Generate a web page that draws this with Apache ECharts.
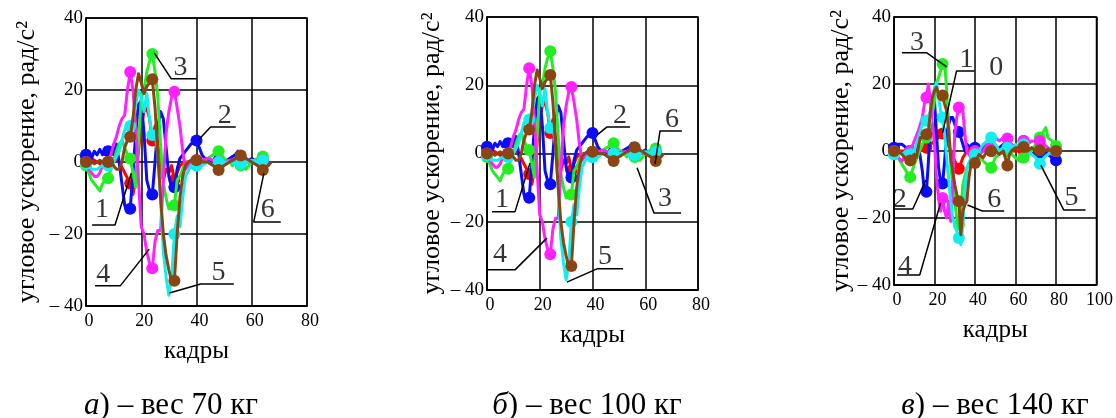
<!DOCTYPE html>
<html>
<head>
<meta charset="utf-8">
<script src="https://cdn.jsdelivr.net/npm/echarts@6/dist/echarts.min.js"></script>
<style>
html, body { margin: 0; padding: 0; background: #fff; }
#chart { width: 1116px; height: 418px; }
</style>
</head>
<body>
<div id="chart"></div>
<script>
// номера кривых и их цвета
var curveNames = ['1', '2', '3', '4', '5', '6'];
var curveColors = ['#ff0000', '#0a0aff', '#22ee22', '#ff22ff', '#11eeee', '#8b4513'];

var xTicksAB = [0, 20, 40, 60, 80];
var xTicksC = [0, 20, 40, 60, 80, 100];
var yTicks = [-40, -20, 0, 20, 40];

var captions = ['а', 'б', 'в'];
var weights = ['вес 70 кг', 'вес 100 кг', 'вес 140 кг'];

// а) вес 70 кг — [кадр, ускорение]
var a1 = [[0,0],[2,1],[4,0],[6,-1],[8,0],[10,1],[12,0],[14,-3],[16,-6],[17,-9],[18,-5],[19,3],[20,10],[21,14],[22,15],[23,12],[24,6],[25,10],[26,5],[27,-2],[28,-5],[29,-2],[30,-3],[31,-1],[32,-5],[33,-3],[34,-1],[36,0],[38,0],[40,0.5],[44,0],[48,0],[52,0.5],[56,0],[60,0],[64,0],[66,0]];
var a2 = [[0,2],[1,3],[2,1],[3,3],[4,2],[5,3.5],[6,2],[7,4],[8,3],[9,4],[10,2],[11,5],[12,0],[13,-6],[14,-12],[15,-14],[16,-13],[17,-3],[18,8],[19,16],[20,17],[21,8],[22,-5],[23,-8],[24,-9],[25,0],[26,10],[27,14],[28,12],[29,4],[30,-4],[31,-7],[32,-7],[33,-2],[34,1],[35,2],[36,3],[37,4],[38,5],[40,6],[41,4],[42,2],[43,1],[45,0],[48,0.5],[50,0],[52,1],[54,2],[55,3],[56,1],[58,0],[60,1],[62,0],[64,0]];
var a3 = [[0,-1],[1,-3],[2,-5],[3,-6],[4,-7],[5,-8],[6,-6],[7,-5],[8,-4.5],[9,-2],[10,0],[11,3],[12,5],[13,6],[14,4],[15,2],[16,1],[17,-3],[18,-7],[19,5],[20,18],[21,20],[22,25],[23,28],[24,30],[25,25],[26,18],[27,5],[28,-6],[29,-10],[30,-13],[31,-13],[32,-12],[33,-5],[34,-4],[35,-2],[36,0],[38,-1],[40,-1],[42,0],[44,1],[46,2],[48,3],[50,1],[52,0],[53,-1],[54,0],[56,-1],[58,-2],[60,0],[62,1],[64,1.5],[65,0]];
var a4 = [[0,0],[1,-2],[2,-3],[3,-4],[4,-4],[5,-3],[6,-1],[7,0],[8,0],[9,2],[10,5],[11,7],[12,10],[13,12],[14,13],[15,20],[16,25],[17,20],[18,10],[19,-5],[20,-18],[21,-20],[22,-25],[23,-28],[24,-29.5],[25,-22],[26,-19],[27,-19],[28,-5],[29,8],[30,14],[31,18],[32,19.5],[33,15],[34,10],[35,3],[36,-2],[37,-1],[38,0],[40,0],[44,1],[48,0],[52,0.5],[56,1],[60,0],[64,0.5],[65,0]];
var a5 = [[0,-0.5],[2,-2],[4,-2],[6,-1],[8,-1],[10,0],[12,3],[13,6],[14,9],[15,10],[16,10],[17,12],[18,16],[19,20],[20,18],[21,14],[22,19],[23,12],[24,7.5],[25,8],[26,2],[27,-10],[28,-25],[29,-32],[30,-37],[31,-32],[32,-20],[33,-15],[34,-18],[35,-10],[36,-4],[38,-1],[40,-1],[42,-1],[44,0],[46,-1],[48,0],[50,0],[52,0],[54,-0.5],[56,-0.5],[58,0],[60,0.5],[62,0],[64,0.5],[66,0]];
var a6 = [[0,0],[1,0.5],[2,0],[3,-0.5],[4,0],[5,0.5],[6,0],[7,0],[8,0],[9,-0.5],[10,-1],[11,-2],[12,-2],[13,0],[14,4],[15,6],[16,7],[17,12],[18,20],[19,24.5],[20,22],[21,19],[22,21],[23,22],[24,23],[25,15],[26,2],[27,-10],[28,-20],[29,-26],[30,-30],[31,-33],[32,-33],[33,-20],[34,-10],[35,-4],[36,-1],[37,0],[38,0.5],[40,0.5],[42,0],[44,0],[46,-1],[48,-2.2],[50,-1],[52,0],[54,1],[56,1.8],[58,1],[60,0],[62,-1],[64,-2.2],[66,-1],[67,0]];

// б) вес 100 кг — на рисунке кривые совпадают с а)
var b1 = a1, b2 = a2, b3 = a3, b4 = a4, b5 = a5, b6 = a6;

// в) вес 140 кг
var c1 = [[0,0],[4,0],[8,0],[12,0],[16,1],[18,2],[20,3],[22,4],[24,5.2],[26,3],[28,0],[30,-3],[32,-5.3],[34,-2],[36,0],[38,1],[40,0],[44,0],[48,0],[56,0],[64,0],[72,0],[80,0]];
var c2 = [[0,1],[2,2],[4,2],[6,1],[8,0],[10,-1],[12,2],[14,-6],[15,-12],[16,-12.2],[17,-3],[18,8],[19,14],[20,15],[21,5],[22,-5],[23,-9],[24,-9.7],[25,-3],[26,5],[27,8],[28,10],[29,10],[30,8],[31,6],[32,5.7],[33,4],[34,2],[35,0],[36,2],[38,1],[40,1],[42,0],[44,1],[46,2],[48,1],[50,0],[52,1],[54,2],[56,1],[58,2],[60,1],[62,2],[64,3],[66,1],[68,0],[70,-1],[72,-1],[74,0],[76,-1],[78,-2],[80,-2.8],[82,-2]];
var c3 = [[0,-1],[2,-2],[4,-4],[6,-6],[8,-7.8],[10,-4],[12,-1],[14,2],[16,4],[18,8],[20,15],[21,20],[22,22],[23,24],[24,26],[25,27],[26,18],[27,8],[28,-4],[29,-10],[30,-15],[31,-20],[32,-22],[33,-18],[34,-10],[36,-5],[38,-3],[40,-2],[42,-1],[44,-3],[46,-4],[48,-5],[50,-2],[52,-1],[54,0],[56,0],[58,-1],[60,-2],[62,-3],[64,-2],[66,-1],[68,0],[70,2],[72,4],[74,6],[75,7],[76,4],[78,3],[80,1.5],[82,0]];
var c4 = [[0,0],[2,-2],[4,-3],[6,-1],[8,0],[10,3],[12,6],[14,10],[15,14],[16,16],[17,20],[18,15],[19,8],[20,2],[21,-8],[22,-14],[23,-18],[24,-14],[25,-18],[26,-20],[27,-15],[28,-21],[29,-10],[30,5],[31,10],[32,13],[33,13],[34,12],[35,5],[36,0],[38,-2],[40,0],[42,-1],[44,0],[46,2],[48,1],[50,4],[52,3],[54,4],[56,3.7],[58,2],[60,1],[62,2],[64,3],[66,2],[68,3],[70,3],[72,3],[74,2],[76,1],[78,0],[80,0]];
var c5 = [[0,-1],[2,0],[4,-1],[6,0],[8,-1],[10,0],[12,4],[14,8],[16,9],[18,12],[19,16],[20,19],[21,20.6],[22,16],[23,12],[24,10],[25,5],[26,-2],[27,-8],[28,-15],[29,-20],[30,-22],[31,-24],[32,-26],[33,-28],[34,-22],[35,-12],[36,-5],[38,-2],[40,-1],[42,0],[44,2],[46,3],[48,4],[50,2],[52,0],[54,1],[56,1],[58,0],[60,2],[62,1],[64,2],[66,0],[68,-1],[70,-2],[72,-3.8],[74,-2],[76,-1],[78,0],[80,0]];
var c6 = [[0,0],[2,0],[4,-1],[6,-2.5],[8,-2.8],[10,-1],[11,-2],[12,1],[13,4],[14,4],[16,5],[17,6],[18,12],[19,16],[20,18],[21,19],[22,17],[23,17],[24,16.6],[25,14],[26,12],[27,6],[28,-2],[29,-6],[30,-10],[31,-13],[32,-15],[33,-25],[34,-18],[35,-16],[36,-15],[37,-8],[38,-4],[40,-3.6],[42,-1],[44,-2],[46,0],[48,0],[50,0],[52,-1],[54,0],[56,-4.3],[57,-1],[58,0],[60,1],[62,1],[64,1.2],[66,0],[68,1],[70,0],[72,0.2],[74,0],[76,0.5],[78,0],[80,0],[82,0.5]];

// выноски: номер, место номера, ломаная (в единицах осей)
var notesA = [
	['3', [34.2, 26.1], [[24.7, 30.3], [30.9, 23.1], [40, 23.1]]],
	['2', [50.2, 12.8], [[40.7, 6.1], [45.1, 9.7], [54.2, 9.7]]],
	['1', [5.8, -13.3], [[2.2, -17.5], [10.5, -17.5], [16.4, -3.1]]],
	['6', [65.8, -13.3], [[70.5, -16.7], [60.7, -16.7], [64.4, -3.1]]],
	['4', [6.2, -31.4], [[3.3, -34.4], [12.4, -34.4], [22.9, -24.2]]],
	['5', [48, -30.8], [[53.5, -33.9], [41.5, -33.9], [30.2, -36.4]]]
];
var notesB = [
	['2', [50.4, 11], [[41.7, 5.4], [45.5, 7.8], [54.2, 7.8]]],
	['6', [70.1, 9.8], [[73.9, 6.6], [65.6, 6.6], [63.7, -3.1]]],
	['1', [5.7, -13.6], [[1.9, -17.1], [10.6, -17.1], [16.3, -2.8]]],
	['3', [67.5, -13.3], [[73.6, -17.4], [63.3, -17.4], [56.9, -4.2]]],
	['4', [4.9, -29.7], [[0.4, -34.1], [10.6, -34.1], [22.7, -24.8]]],
	['5', [44.7, -30.3], [[51.6, -33.8], [41.7, -33.8], [30.3, -37.7]]]
];
var notesC = [
	['3', [11.3, 32.2], [[3.9, 29.3], [16.2, 29.3], [26, 25.1]]],
	['1', [35.8, 27.2], [[39.7, 23.9], [30.9, 23.9], [24, 5.4]]],
	['0', [50.5, 24.8], []],
	['2', [2.9, -14.6], [[-1, -17.3], [9.3, -17.3], [15.7, -8.7]]],
	['4', [5.4, -34.6], [[1.5, -37], [12.7, -37], [23, -15.5]]],
	['6', [49.5, -14.6], [[54.4, -17.9], [43.6, -17.9], [36.3, -16.1]]],
	['5', [87.7, -14], [[94.6, -17.6], [83.8, -17.6], [72.5, -4.2]]]
];

var FONT = 'Liberation Serif';
var panels = [
	{ curves: [a1, a2, a3, a4, a5, a6], notes: notesA, xTicks: xTicksAB,
	  grid: { left: 86, top: 18, width: 221, height: 288 }, nameGap: 46, cx: 171 },
	{ curves: [b1, b2, b3, b4, b5, b6], notes: notesB, xTicks: xTicksAB,
	  grid: { left: 487, top: 17, width: 211, height: 273 }, nameGap: 42, cx: 587 },
	{ curves: [c1, c2, c3, c4, c5, c6], notes: notesC, xTicks: xTicksC,
	  grid: { left: 894, top: 17, width: 204, height: 268 }, nameGap: 40, cx: 995 }
];

var grids = [], xAxes = [], yAxes = [], series = [], texts = [];

panels.forEach(function (p, k) {
	grids.push(Object.assign({ show: true, borderColor: '#000', borderWidth: 1.5 }, p.grid));
	xAxes.push({
		type: 'value', gridIndex: k,
		min: p.xTicks[0], max: p.xTicks[p.xTicks.length - 1], interval: 20,
		name: 'кадры', nameLocation: 'middle', nameGap: 33,
		nameTextStyle: { fontFamily: FONT, fontSize: 25, color: '#000' },
		axisLine: { show: true, onZero: false, lineStyle: { color: '#000', width: 1.5 } },
		axisTick: { show: false },
		axisLabel: { fontFamily: FONT, fontSize: 18, color: '#000', margin: 6, padding: [0, 0, 0, 6] },
		splitLine: { show: true, lineStyle: { color: '#000', width: 1.5 } }
	});
	yAxes.push({
		type: 'value', gridIndex: k,
		min: yTicks[0], max: yTicks[yTicks.length - 1], interval: 20,
		name: 'угловое ускорение, рад/с²', nameLocation: 'middle', nameRotate: 90, nameGap: p.nameGap,
		nameTextStyle: { fontFamily: FONT, fontSize: 26, color: '#000' },
		axisLine: { show: true, onZero: false, lineStyle: { color: '#000', width: 1.5 } },
		axisTick: { show: false },
		axisLabel: {
			fontFamily: FONT, fontSize: 19, color: '#000', margin: 3, padding: [9, 0, 0, 0],
			formatter: function (v) { return v < 0 ? '– ' + (-v) : String(v); }
		},
		splitLine: { show: true, lineStyle: { color: '#000', width: 1.5 } }
	});

	p.curves.forEach(function (pts, i) {
		series.push({
			type: 'line', name: curveNames[i], xAxisIndex: k, yAxisIndex: k,
			data: pts.map(function (d) {
				// точки отмечены кружком через каждые 8 кадров
				return { value: d, symbol: d[0] % 8 === 0 ? 'circle' : 'none' };
			}),
			symbolSize: 12,
			color: curveColors[i],
			itemStyle: { color: curveColors[i] },
			lineStyle: { color: curveColors[i], width: 3, join: 'round' },
			silent: true, z: 2 + i
		});
	});

	p.notes.forEach(function (n) {
		if (n[2].length) {
			series.push({
				type: 'line', xAxisIndex: k, yAxisIndex: k, data: n[2],
				symbol: 'none', clip: false, silent: true, z: 20,
				lineStyle: { color: '#000', width: 1.5 }
			});
		}
	});
	series.push({
		type: 'scatter', xAxisIndex: k, yAxisIndex: k, silent: true, z: 21,
		symbolSize: 1, itemStyle: { color: 'rgba(0,0,0,0)' },
		data: p.notes.map(function (n) { return { value: n[1], name: n[0] }; }),
		label: { show: true, position: 'inside', formatter: '{b}',
			fontFamily: FONT, fontSize: 28, color: '#000' }
	});

	texts.push({
		type: 'text', x: p.cx, y: 406,
		style: {
			text: '{i|' + captions[k] + '}) – ' + weights[k],
			font: '31px "' + FONT + '"', fill: '#000', align: 'center', verticalAlign: 'middle',
			rich: { i: { fontStyle: 'italic', fontSize: 31, fontFamily: FONT, fill: '#000' } }
		}
	});
});

var chart = echarts.init(document.getElementById('chart'));
chart.setOption({
	animation: false,
	backgroundColor: '#fff',
	grid: grids,
	xAxis: xAxes,
	yAxis: yAxes,
	series: series,
	graphic: texts
});
</script>
</body>
</html>
